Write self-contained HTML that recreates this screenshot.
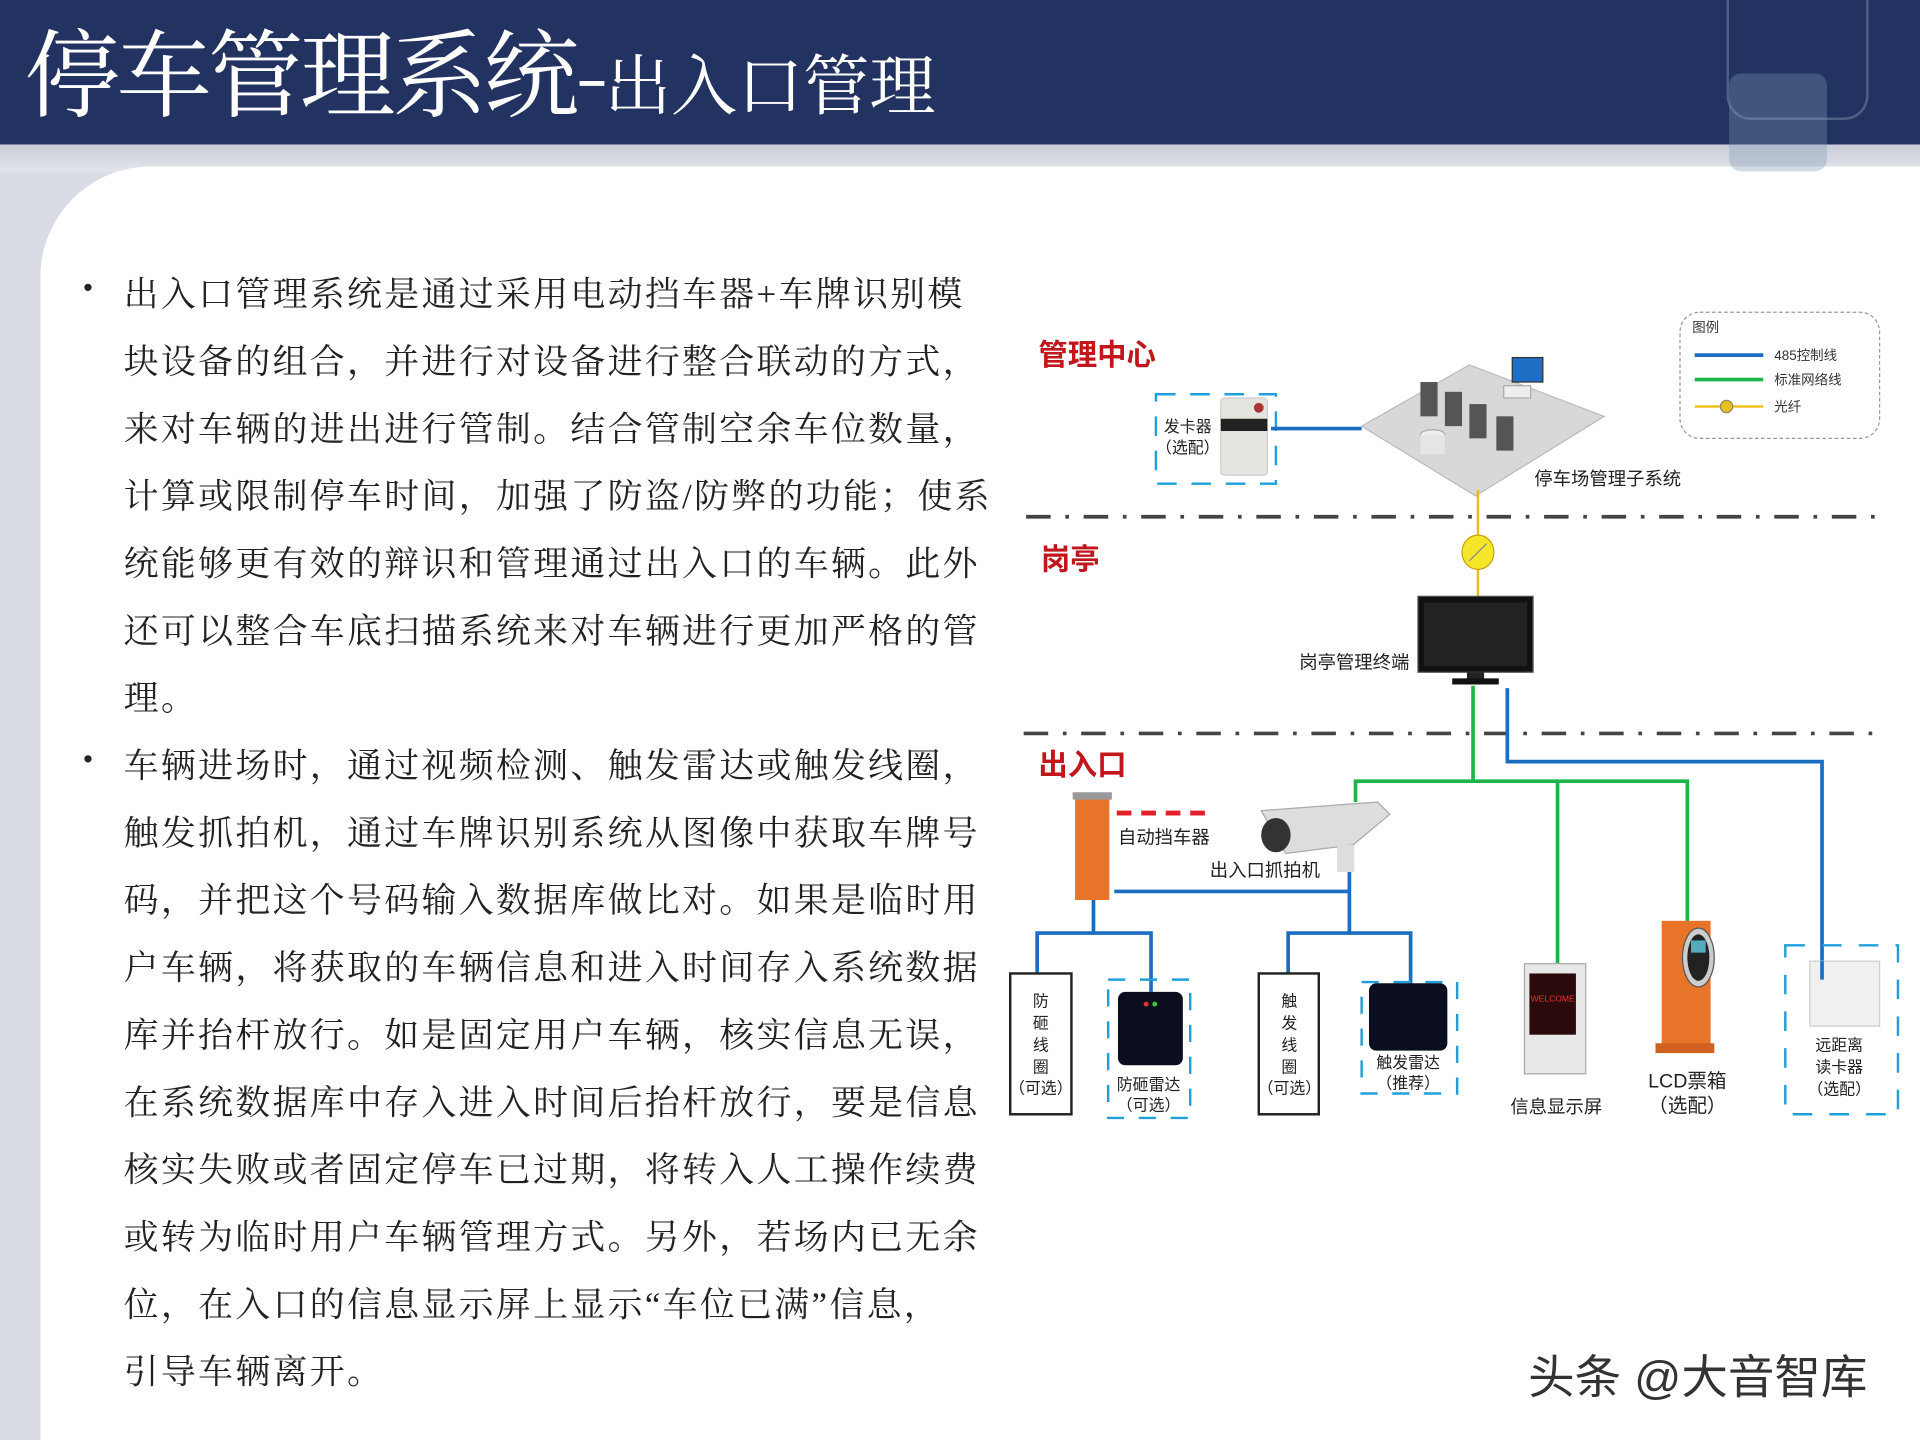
<!DOCTYPE html>
<html><head><meta charset="utf-8"><style>
html,body{margin:0;padding:0;width:1920px;height:1440px;overflow:hidden;background:#fff}
#w{position:absolute;left:0;top:0;width:1568px;height:1176px;transform:scale(1.22449);transform-origin:0 0;background:#d9dce4;font-family:"Liberation Sans","Noto Sans CJK SC",sans-serif}
#hd{position:absolute;left:0;top:0;width:1568px;height:118px;background:#233361}
#band{position:absolute;left:0;top:118px;width:1568px;height:22px;background:linear-gradient(#c9ccd8,#e3e5ea)}
#main{position:absolute;left:33px;top:136px;width:1535px;height:1040px;background:#fff;border-top-left-radius:90px}
.t1{position:absolute;left:20px;top:0px;color:#fff;font-size:78px;font-family:"Noto Serif CJK SC",serif;white-space:nowrap;letter-spacing:-3px}
.t1 small{font-size:54px;letter-spacing:0}
.tx{position:absolute;left:101px;font-size:28.5px;color:#222;letter-spacing:1.9px;white-space:nowrap;font-family:"Liberation Serif","Noto Serif CJK SC",serif}
.bl{position:absolute;left:68px;font-size:22px;color:#222}
</style></head><body><div id="w">
<div id="band"></div>
<div id="main"></div>
<div id="hd"></div>
<div style="position:absolute;left:1410px;top:0;width:112px;height:96px;border:2px solid #8fa3c0;border-top:none;border-radius:0 0 20px 20px;opacity:.4"></div>
<div style="position:absolute;left:1412px;top:60px;width:80px;height:80px;background:#7f97b3;opacity:.35;border-radius:10px"></div>
<div class="t1">停车管理系统-<small>出入口管理</small></div>

<div class="bl" style="top:222px">•</div>
<div class="tx" style="top:218px">出入口管理系统是通过采用电动挡车器+车牌识别模</div>
<div class="tx" style="top:273px">块设备的组合，并进行对设备进行整合联动的方式，</div>
<div class="tx" style="top:328px">来对车辆的进出进行管制。结合管制空余车位数量，</div>
<div class="tx" style="top:383px">计算或限制停车时间，加强了防盗/防弊的功能；使系</div>
<div class="tx" style="top:438px">统能够更有效的辩识和管理通过出入口的车辆。此外</div>
<div class="tx" style="top:493px">还可以整合车底扫描系统来对车辆进行更加严格的管</div>
<div class="tx" style="top:548px">理。</div>
<div class="bl" style="top:607px">•</div>
<div class="tx" style="top:603px">车辆进场时，通过视频检测、触发雷达或触发线圈，</div>
<div class="tx" style="top:658px">触发抓拍机，通过车牌识别系统从图像中获取车牌号</div>
<div class="tx" style="top:713px">码，并把这个号码输入数据库做比对。如果是临时用</div>
<div class="tx" style="top:768px">户车辆，将获取的车辆信息和进入时间存入系统数据</div>
<div class="tx" style="top:823px">库并抬杆放行。如是固定用户车辆，核实信息无误，</div>
<div class="tx" style="top:878px">在系统数据库中存入进入时间后抬杆放行，要是信息</div>
<div class="tx" style="top:933px">核实失败或者固定停车已过期，将转入人工操作续费</div>
<div class="tx" style="top:988px">或转为临时用户车辆管理方式。另外，若场内已无余</div>
<div class="tx" style="top:1043px">位，在入口的信息显示屏上显示“车位已满”信息，</div>
<div class="tx" style="top:1098px">引导车辆离开。</div>

<svg style="position:absolute;left:0;top:0" width="1568" height="1176" font-family="Liberation Sans, Noto Sans CJK SC, sans-serif">
<rect x="1372" y="255" width="163" height="103" rx="16" fill="none" stroke="#999" stroke-dasharray="3 2"/>
<text x="1382" y="271" font-size="11" fill="#333">图例</text>
<line x1="1384" y1="290" x2="1440" y2="290" stroke="#1a6dc0" stroke-width="3"/><text x="1449" y="294" font-size="11" fill="#333">485控制线</text>
<line x1="1384" y1="310" x2="1440" y2="310" stroke="#1db54a" stroke-width="3"/><text x="1449" y="314" font-size="11" fill="#333">标准网络线</text>
<line x1="1384" y1="332" x2="1440" y2="332" stroke="#f0c020" stroke-width="2"/><circle cx="1410" cy="332" r="5" fill="#e8c020" stroke="#886"/><text x="1449" y="336" font-size="11" fill="#333">光纤</text>
<g fill="#c0161c" font-weight="bold" font-size="24"><text x="848" y="298">管理中心</text><text x="850" y="465">岗亭</text><text x="848" y="633">出入口</text></g>
<g stroke="#444" stroke-width="3" stroke-dasharray="20 12 3 12"><line x1="838" y1="422" x2="1540" y2="422"/><line x1="836" y1="599" x2="1540" y2="599"/></g>
<rect x="944" y="322" width="98" height="73" fill="none" stroke="#1ea0dc" stroke-width="2" stroke-dasharray="16 12"/>
<rect x="997" y="325" width="38" height="63" rx="3" fill="#e6e4df" stroke="#ccc"/><rect x="997" y="342" width="38" height="10" fill="#222"/><circle cx="1028" cy="333" r="4" fill="#a33"/>
<text x="970" y="353" font-size="13" text-anchor="middle" fill="#222">发卡器</text><text x="970" y="370" font-size="13" text-anchor="middle" fill="#222">（选配）</text>
<line x1="1038" y1="350" x2="1112" y2="350" stroke="#1a6dc0" stroke-width="3"/>
<polygon points="1112,348 1200,298 1310,340 1205,405" fill="#d8d8da" stroke="#bbb"/>
<g fill="#555"><rect x="1160" y="312" width="14" height="28"/><rect x="1180" y="320" width="14" height="28"/><rect x="1200" y="330" width="14" height="28"/><rect x="1222" y="340" width="14" height="28"/></g>
<ellipse cx="1170" cy="355" rx="10" ry="4" fill="#eee" stroke="#aaa"/><rect x="1160" y="355" width="20" height="16" fill="#e6e6e6"/>
<rect x="1235" y="292" width="25" height="20" fill="#1c6fc4" stroke="#333"/><rect x="1228" y="315" width="22" height="10" fill="#eee" stroke="#aaa"/>
<text x="1253" y="396" font-size="15" fill="#222">停车场管理子系统</text>
<line x1="1207" y1="400" x2="1207" y2="487" stroke="#f0b820" stroke-width="2"/>
<ellipse cx="1207" cy="451" rx="13" ry="14" fill="#f5e62a" stroke="#c8a000"/>
<line x1="1200" y1="458" x2="1214" y2="444" stroke="#888"/>
<rect x="1158" y="487" width="94" height="62" fill="#111" stroke="#555"/><rect x="1163" y="492" width="84" height="52" fill="#222"/>
<rect x="1198" y="549" width="14" height="6" fill="#222"/><rect x="1186" y="554" width="38" height="5" fill="#111"/>
<text x="1151" y="546" font-size="15" text-anchor="end" fill="#222">岗亭管理终端</text>
<g fill="none" stroke="#1db54a" stroke-width="3"><polyline points="1203,560 1203,638"/><polyline points="1107,655 1107,638 1378,638 1378,760"/><polyline points="1272,638 1272,795"/></g>
<g fill="none" stroke="#1a6dc0" stroke-width="3"><polyline points="1231,562 1231,622 1488,622 1488,785"/>
<polyline points="910,728 1102,728"/><polyline points="1102,712 1102,762"/><polyline points="1052,795 1052,762 1152,762 1152,805"/>
<polyline points="893,735 893,762"/><polyline points="847,795 847,762 940,762 940,810"/></g>
<rect x="878" y="650" width="28" height="85" fill="#e8742a"/><rect x="876" y="647" width="32" height="6" fill="#999"/>
<line x1="912" y1="664" x2="990" y2="664" stroke="#e0202a" stroke-width="4" stroke-dasharray="12 8"/>
<text x="913" y="689" font-size="15" fill="#222">自动挡车器</text>
<path d="M1030,662 L1125,655 L1135,665 L1105,690 L1050,697 Z" fill="#ddd" stroke="#aaa"/><ellipse cx="1042" cy="682" rx="12" ry="14" fill="#333"/>
<rect x="1092" y="690" width="14" height="22" fill="#ddd"/>
<text x="988" y="716" font-size="15" fill="#222">出入口抓拍机</text>
<rect x="825" y="795" width="50" height="115" fill="#fff" stroke="#222" stroke-width="2"/>
<g font-size="13" text-anchor="middle" fill="#222"><text x="850" y="822">防</text><text x="850" y="840">砸</text><text x="850" y="858">线</text><text x="850" y="876">圈</text><text x="850" y="893">（可选）</text></g>
<rect x="1028" y="795" width="49" height="115" fill="#fff" stroke="#222" stroke-width="2"/>
<g font-size="13" text-anchor="middle" fill="#222"><text x="1053" y="822">触</text><text x="1053" y="840">发</text><text x="1053" y="858">线</text><text x="1053" y="876">圈</text><text x="1053" y="893">（可选）</text></g>
<rect x="905" y="800" width="67" height="113" fill="none" stroke="#1ea0dc" stroke-width="2" stroke-dasharray="14 12"/>
<rect x="913" y="810" width="53" height="60" rx="6" fill="#0b0e1e"/><circle cx="936" cy="820" r="2" fill="#d33"/><circle cx="943" cy="820" r="2" fill="#3c3"/>
<text x="938" y="890" font-size="13" text-anchor="middle" fill="#222">防砸雷达</text><text x="938" y="907" font-size="13" text-anchor="middle" fill="#222">（可选）</text>
<rect x="1112" y="802" width="78" height="91" fill="none" stroke="#1ea0dc" stroke-width="2" stroke-dasharray="14 12"/>
<rect x="1118" y="803" width="64" height="55" rx="6" fill="#0b0e1e"/>
<text x="1150" y="872" font-size="13" text-anchor="middle" fill="#222">触发雷达</text><text x="1150" y="889" font-size="13" text-anchor="middle" fill="#222">（推荐）</text>
<rect x="1245" y="787" width="50" height="90" fill="#e8e8e8" stroke="#aaa"/><rect x="1249" y="795" width="38" height="50" fill="#2a0a0a"/>
<text x="1268" y="818" font-size="7" fill="#e33" text-anchor="middle">WELCOME</text>
<text x="1271" y="909" font-size="15" text-anchor="middle" fill="#222">信息显示屏</text>
<rect x="1357" y="752" width="40" height="108" fill="#e8742a"/><rect x="1352" y="852" width="48" height="8" fill="#d06020"/>
<ellipse cx="1387" cy="782" rx="13" ry="24" fill="#ccc" stroke="#555"/><ellipse cx="1387" cy="782" rx="9" ry="19" fill="#222"/><rect x="1381" y="768" width="12" height="10" fill="#5ab"/>
<text x="1378" y="888" font-size="16" text-anchor="middle" fill="#222">LCD票箱</text><text x="1378" y="908" font-size="16" text-anchor="middle" fill="#222">（选配）</text>
<rect x="1458" y="772" width="92" height="138" fill="none" stroke="#1ea0dc" stroke-width="2" stroke-dasharray="16 14"/>
<rect x="1478" y="785" width="57" height="53" fill="#f0f0f0" stroke="#ccc"/>
<line x1="1488" y1="785" x2="1488" y2="800" stroke="#1a6dc0" stroke-width="3"/>
<g font-size="13" text-anchor="middle" fill="#222"><text x="1502" y="858">远距离</text><text x="1502" y="876">读卡器</text><text x="1502" y="894">（选配）</text></g>
<text x="1248" y="1138" font-size="38" fill="#333">头条 @大音智库</text>
</svg>
</div></body></html>
